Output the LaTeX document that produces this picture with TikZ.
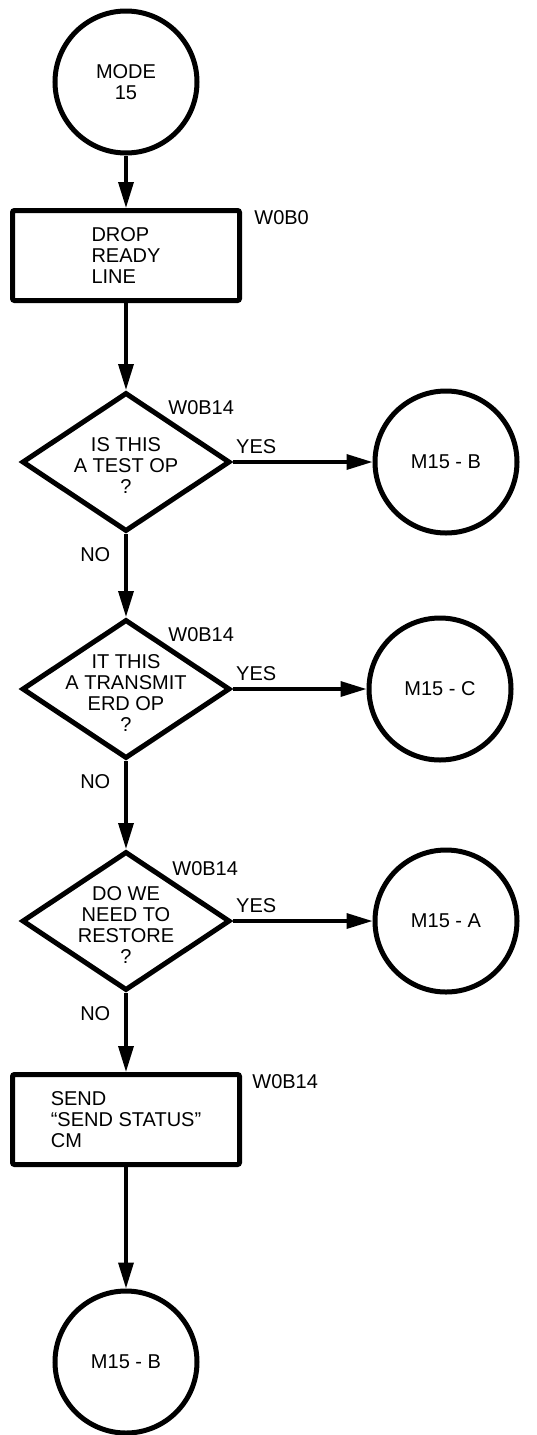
\documentclass[tikz,border=0pt]{standalone}
\usepackage{fontspec}
\setmainfont{Liberation Sans}
\usetikzlibrary{arrows.meta}
\usetikzlibrary{shapes.geometric}
\usetikzlibrary{positioning}

\begin{document}
\begin{tikzpicture}[
    font=\fontsize{10}{10.5}\selectfont,
    term/.style={circle, draw, line width=2.5pt, minimum size=71pt, inner sep=0pt, align=center},
    proc/.style={rectangle, draw, line width=2.5pt, rounded corners=1pt, minimum width=113.5pt, minimum height=45pt, align=left},
    decision/.style={diamond, draw, line width=2.5pt, minimum width=104pt, minimum height=69.5pt, inner sep=0pt},
    qtext/.style={align=center, inner sep=0pt, yshift=-2pt},
    tag/.style={anchor=north west, inner sep=0pt},
    flow/.style={draw, line width=1.7pt, -{Triangle[length=13pt,width=7.5pt]}},
    yes/.style={pos=0, anchor=south west, inner sep=0pt, xshift=1pt, yshift=3.5pt},
    no/.style={pos=0, anchor=north east, inner sep=0pt, xshift=-7pt, yshift=-6pt}
]
            \useasboundingbox (0,0) rectangle (268pt,-717.5pt);

            \node[term] (mode) at (63pt,-41pt) {MODE\\15};
            \node[proc, below of=mode, node distance=86.75pt,
                  label={[tag, xshift=6pt, yshift=-1pt]north east:W0B0}] (drop) {DROP\\READY\\LINE};

            \node[decision, below of=drop, node distance=103.25pt,
                  label={[qtext]center:{IS THIS\\A TEST OP\\?}},
                  label={[tag, xshift=21pt, yshift=-5pt]north:W0B14}] (test) {};
            \node[term, right of=test, node distance=160pt] (mb) {M15 - B};

            \node[decision, below of=test, node distance=113.5pt,
                  label={[qtext]center:{IT THIS\\A TRANSMIT\\ERD OP\\?}},
                  label={[tag, xshift=21pt, yshift=-5pt]north:W0B14}] (xmit) {};
            \node[term, right of=xmit, node distance=157pt] (mc) {M15 - C};

            \node[decision, below of=xmit, node distance=116pt,
                  label={[qtext]center:{DO WE\\NEED TO\\RESTORE\\?}},
                  label={[tag, xshift=23pt, yshift=-6pt]north:W0B14}] (rest) {};
            \node[term, right of=rest, node distance=160pt] (ma) {M15 - A};

            \node[proc, below of=rest, node distance=99.25pt,
                  label={[tag, xshift=5pt, yshift=-1pt]north east:W0B14}] (send) {SEND\\``SEND STATUS''\\CM};
            \node[term, below of=send, node distance=121.25pt] (mb2) {M15 - B};

            \draw   (mode) edge[flow] (drop)
                    (drop) edge[flow] (test)

                    (test) edge[flow] node[yes]{YES} (mb)
                    (test) edge[flow] node[no]{NO} (xmit)

                    (xmit) edge[flow] node[yes]{YES} (mc)
                    (xmit) edge[flow] node[no]{NO} (rest)

                    (rest) edge[flow] node[yes]{YES} (ma)
                    (rest) edge[flow] node[no]{NO} (send)

                    (send) edge[flow] (mb2)
                    ;
        \end{tikzpicture}
\end{document}
